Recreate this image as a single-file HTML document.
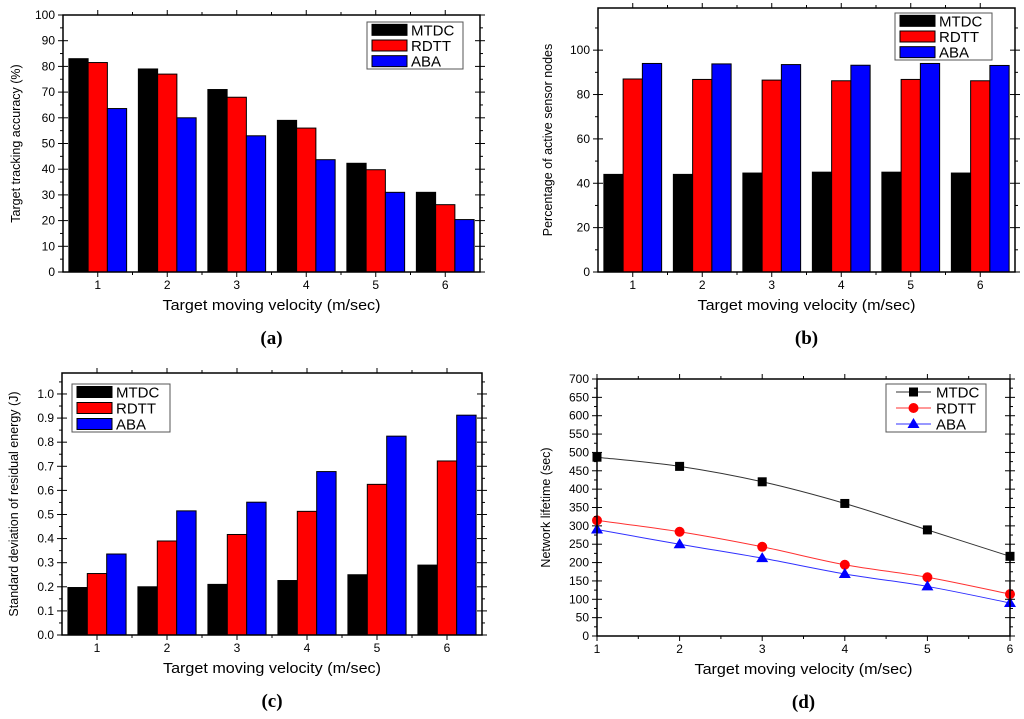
<!DOCTYPE html>
<html><head><meta charset="utf-8"><style>
body{margin:0;background:#fff;}
svg{display:block;font-family:"Liberation Sans",Arial,sans-serif;}
svg text{font-family:"Liberation Sans",Arial,sans-serif;}
svg text.cap{font-family:"Liberation Serif",serif;}
</style></head><body>
<svg id="s" width="1024" height="719" xmlns="http://www.w3.org/2000/svg"></svg>
<script>
const categories=[1,2,3,4,5,6];
const seriesNames=["MTDC","RDTT","ABA"];
const seriesColors=["#000000","#ff0000","#0000ff"];
const aMTDC=[83,79,71,59,42.3,31];
const aRDTT=[81.5,77,68,56,39.8,26.2];
const aABA=[63.6,60,53,43.7,31,20.4];
const aTicks=[0,10,20,30,40,50,60,70,80,90,100];
const bMTDC=[44,44,44.6,45,45,44.6];
const bRDTT=[87,86.8,86.5,86.2,86.8,86.2];
const bABA=[94,93.8,93.5,93.2,94,93.1];
const bTicks=[0,20,40,60,80,100];
const cMTDC=[0.197,0.2,0.21,0.226,0.25,0.29];
const cRDTT=[0.255,0.39,0.417,0.513,0.625,0.722];
const cABA=[0.336,0.515,0.551,0.678,0.825,0.912];
const cTicks=[0,0.1,0.2,0.3,0.4,0.5,0.6,0.7,0.8,0.9,1.0];
const dMTDC=[487,462,420,361,289,217];
const dRDTT=[315,284,243,194,160,114];
const dABA=[290,250,212,169,135,90];
const dTicks=[0,50,100,150,200,250,300,350,400,450,500,550,600,650,700];

const NS="http://www.w3.org/2000/svg";
const svg=document.getElementById('s');
function el(t,a,p){const e=document.createElementNS(NS,t);for(const k in a)e.setAttribute(k,a[k]);(p||svg).appendChild(e);return e;}
function spline(P){let d='M'+P[0][0]+','+P[0][1];for(let i=0;i<P.length-1;i++){const p0=P[Math.max(0,i-1)],p1=P[i],p2=P[i+1],p3=P[Math.min(P.length-1,i+2)];
  const c1=[p1[0]+(p2[0]-p0[0])/6,p1[1]+(p2[1]-p0[1])/6],c2=[p2[0]-(p3[0]-p1[0])/6,p2[1]-(p3[1]-p1[1])/6];
  d+=' C'+c1[0]+','+c1[1]+' '+c2[0]+','+c2[1]+' '+p2[0]+','+p2[1];}return d;}

function panel(id,cfg){
  const g=el('g',{});
  
  
  const {L,R,T,B,ymin,ymax,ticks,minor,fmt}=cfg;
  const ys=v=>B-(v-ymin)/(ymax-ymin)*(B-T);
  let xs;
  if(cfg.line){xs=i=>L+i*(R-L)/5;}else{xs=i=>L+(i+0.5)*(R-L)/6;}
  const data=cfg.data;
  if(!cfg.line){
    const gw=(R-L)/6, bw=gw*0.277;
    data.forEach((arr,s)=>arr.forEach((v,i)=>{
      const x=xs(i)-1.5*bw+s*bw;
      const r=el('rect',{x:x,y:ys(v),width:bw,height:B-ys(v),fill:seriesColors[s],stroke:'#000','stroke-width':1},g);
      
      
    }));
  } else {
    const lc=['#333','#ff3030','#3030ff'];
    data.forEach((arr,s)=>{
      const P=arr.map((v,i)=>[xs(i),ys(v)]);
      const pl=el('path',{d:spline(P),fill:'none',stroke:lc[s],'stroke-width':1},g);
      
      
      arr.forEach((v,i)=>{
        const x=xs(i),y=ys(v);let m;
        if(s==0)m=el('rect',{x:x-4.5,y:y-4.5,width:9,height:9,fill:'#000'},g);
        else if(s==1)m=el('circle',{cx:x,cy:y,r:5,fill:'#ff0000'},g);
        else m=el('polygon',{points:(x)+','+(y-6)+' '+(x-6)+','+(y+4)+' '+(x+6)+','+(y+4),fill:'#0000ff'},g);
        
        
      });
    });
  }
  const fr=el('rect',{x:L,y:T,width:R-L,height:B-T,fill:'none',stroke:'#000','stroke-width':1.5},g);
  
  
  ticks.forEach((t,k)=>{
    const y=ys(t);
    el('line',{x1:L-5,x2:L+5,y1:y,y2:y,stroke:'#000','stroke-width':1},g);
    el('line',{x1:R-5,x2:R+5,y1:y,y2:y,stroke:'#000','stroke-width':1},g);
    if(k<ticks.length-1){const ym=ys(t+minor);
      el('line',{x1:L-3,x2:L,y1:ym,y2:ym,stroke:'#000'},g);el('line',{x1:R,x2:R+3,y1:ym,y2:ym,stroke:'#000'},g);}
    const tx=el('text',{x:L-8,y:y+4,'font-size':12,'text-anchor':'end'},g);
    tx.textContent=fmt(t);
    
    
  });
  if(cfg.extraMinor){const ym=ys(ticks[ticks.length-1]+minor);if(ym>T){el('line',{x1:L-3,x2:L,y1:ym,y2:ym,stroke:'#000'},g);el('line',{x1:R,x2:R+3,y1:ym,y2:ym,stroke:'#000'},g);}}
  categories.forEach((c,i)=>{
    const x=xs(i);
    el('line',{x1:x,x2:x,y1:B,y2:B+5,stroke:'#000'},g);
    el('line',{x1:x,x2:x,y1:T-5,y2:T,stroke:'#000'},g);
    if(cfg.line&&i<5){const xm=(x+xs(i+1))/2;el('line',{x1:xm,x2:xm,y1:B,y2:B+3,stroke:'#000'},g);el('line',{x1:xm,x2:xm,y1:T-3,y2:T,stroke:'#000'},g);}
    if(!cfg.line&&i<5){const xm=L+(i+1)*(R-L)/6;el('line',{x1:xm,x2:xm,y1:B,y2:B+3,stroke:'#000'},g);el('line',{x1:xm,x2:xm,y1:T-3,y2:T,stroke:'#000'},g);}
    const tx=el('text',{x:x,y:B+17,'font-size':12,'text-anchor':'middle'},g);
    tx.textContent=c;
    
    
  });
  const xt=el('text',{x:(L+R)/2,y:B+38,'font-size':14.5,'text-anchor':'middle',textLength:218,lengthAdjust:'spacingAndGlyphs'},g);
  xt.textContent='Target moving velocity (m/sec)';
  
  
  const yt=el('text',{x:0,y:0,'font-size':12.5,'text-anchor':'middle',transform:'translate('+cfg.ytx+','+(T+B)/2+') rotate(-90)'},g);
  yt.textContent=cfg.ytitle;
  
  
  const cap=el('text',{x:(L+R)/2,y:B+72,'font-size':19,'font-weight':'bold','class':'cap','text-anchor':'middle'},g);
  cap.textContent='('+id+')';
  
  
  const [lx,ly,lw,lh]=cfg.leg;
  const lg=el('g',{},g);
  
  
  el('rect',{x:lx,y:ly,width:lw,height:lh,fill:'#fff',stroke:'#555','stroke-width':1},lg);
  const rh=lh/3;
  seriesNames.forEach((n,s)=>{
    const cy=ly+rh*(s+0.5);
    const e=el('g',{},lg);
    
    
    if(!cfg.line){el('rect',{x:lx+5,y:cy-5.5,width:35,height:11,fill:seriesColors[s],stroke:'#000'},e);}
    else{const lc=['#333','#ff3030','#3030ff'];el('line',{x1:lx+10,x2:lx+45,y1:cy,y2:cy,stroke:lc[s]},e);
      const x=lx+27.5;
      if(s==0)el('rect',{x:x-4.5,y:cy-4.5,width:9,height:9,fill:'#000'},e);
      else if(s==1)el('circle',{cx:x,cy:cy,r:5,fill:'#f00'},e);
      else el('polygon',{points:x+','+(cy-6)+' '+(x-6)+','+(cy+4)+' '+(x+6)+','+(cy+4),fill:'#00f'},e);}
    const t=el('text',{x:lx+(cfg.line?50:44),y:cy+5.5,'font-size':15},e);
    t.textContent=n;
  });
}
panel('a',{L:63,R:480,T:15,B:272,ymin:0,ymax:100,ticks:aTicks,minor:5,fmt:v=>v,data:[aMTDC,aRDTT,aABA],ytx:20,ytitle:'Target tracking accuracy (%)',leg:[367,22,96,47]});
panel('b',{L:598,R:1015,T:8,B:272,ymin:0,ymax:119,ticks:bTicks,minor:10,extraMinor:true,fmt:v=>v,data:[bMTDC,bRDTT,bABA],ytx:552,ytitle:'Percentage of active sensor nodes',leg:[895,13,97,47]});
panel('c',{L:62,R:482,T:373,B:635,ymin:0,ymax:1.087,ticks:cTicks,minor:0.05,extraMinor:true,fmt:v=>v.toFixed(1),data:[cMTDC,cRDTT,cABA],ytx:18,ytitle:'Standard deviation of residual energy (J)',leg:[72,384,98,48]});
panel('d',{L:597,R:1010,T:379,B:636,ymin:0,ymax:700,ticks:dTicks,minor:25,fmt:v=>v,data:[dMTDC,dRDTT,dABA],line:true,ytx:550,ytitle:'Network lifetime (sec)',leg:[886,384,100,48]});
</script>
</body></html>
